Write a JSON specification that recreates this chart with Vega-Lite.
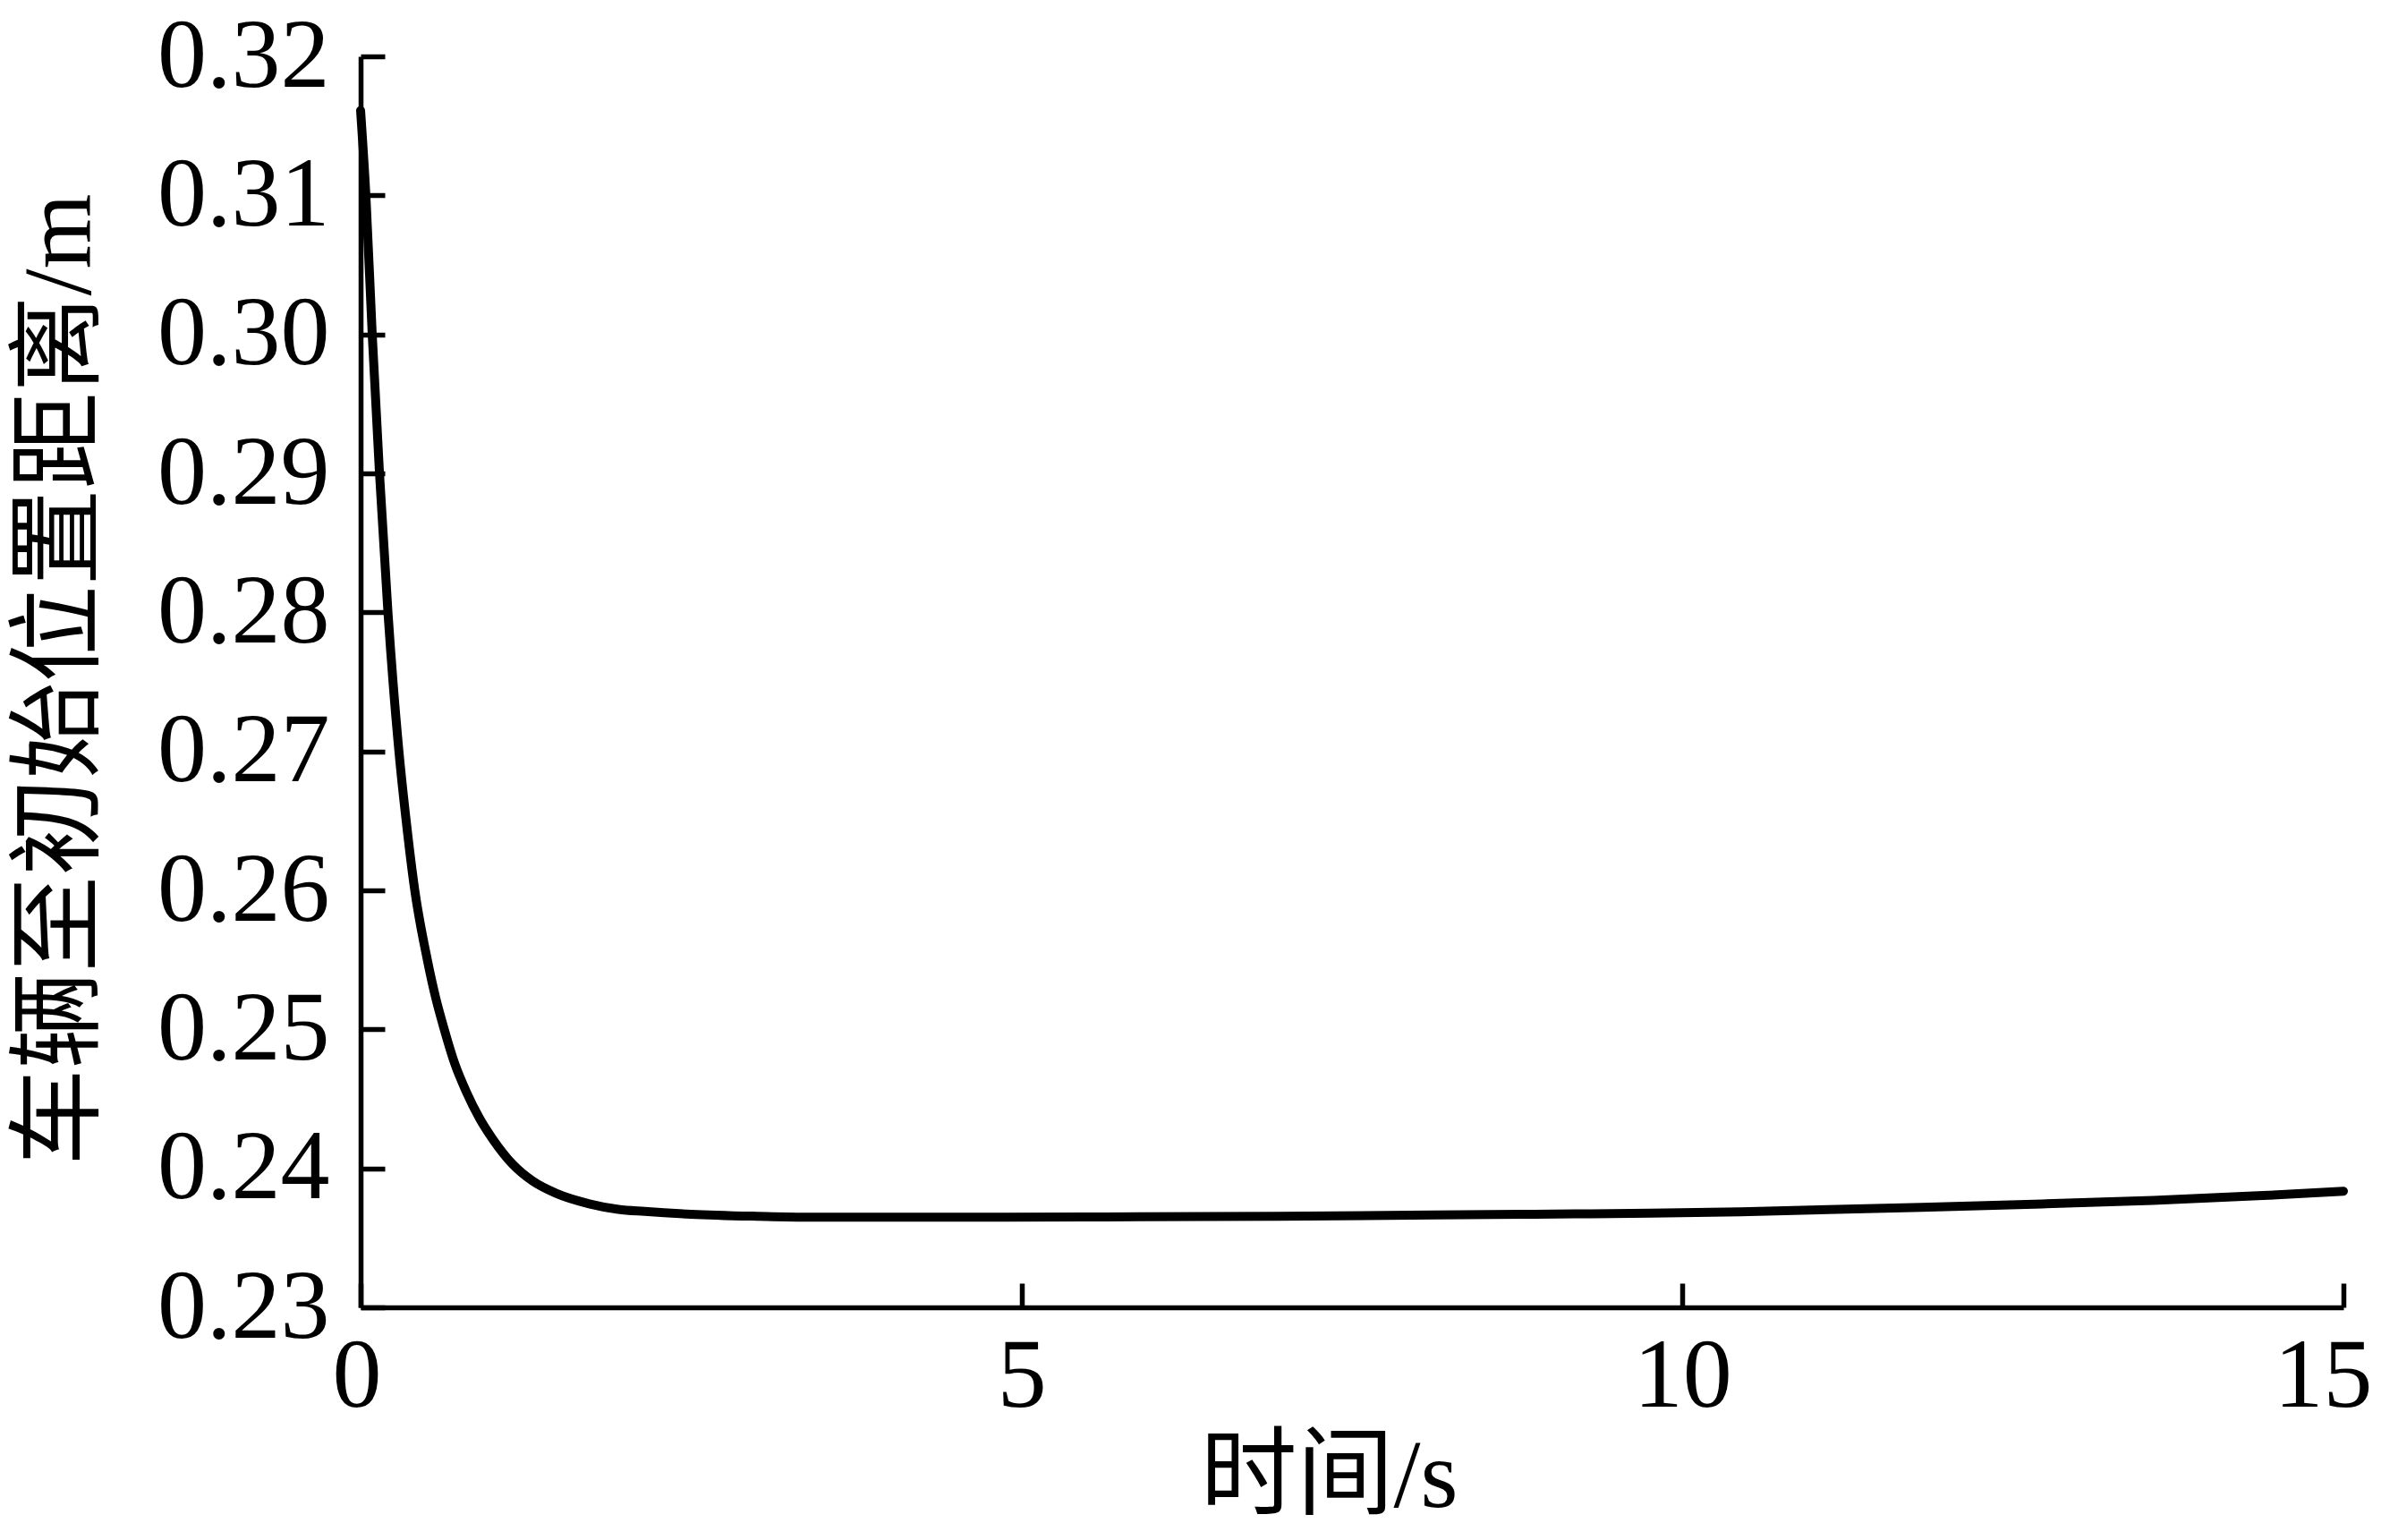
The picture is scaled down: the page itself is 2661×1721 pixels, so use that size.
{
  "$schema": "https://vega.github.io/schema/vega-lite/v6.json",
  "autosize": "none",
  "width": 2216,
  "height": 1398,
  "padding": {"left": 403, "top": 63, "right": 42, "bottom": 260},
  "background": "white",
  "config": {
    "view": {"stroke": null},
    "font": "Liberation Serif, Noto Sans CJK SC",
    "axis": {
      "grid": false,
      "domainColor": "black",
      "domainWidth": 5.5,
      "tickColor": "black",
      "tickWidth": 5.5,
      "tickSize": -27,
      "labelFont": "Liberation Serif",
      "labelFontSize": 110,
      "labelColor": "black",
      "labelLimit": 0,
      "titleFont": "Liberation Serif, Noto Sans CJK SC",
      "titleFontSize": 108,
      "titleFontWeight": "normal",
      "titleColor": "black"
    }
  },
  "data": {
    "values": [
      {"t": 0.0, "d": 0.3161},
      {"t": 0.04, "d": 0.3100},
      {"t": 0.088, "d": 0.3000},
      {"t": 0.143, "d": 0.2900},
      {"t": 0.207, "d": 0.2800},
      {"t": 0.29, "d": 0.2700},
      {"t": 0.345, "d": 0.2650},
      {"t": 0.41, "d": 0.2600},
      {"t": 0.505, "d": 0.2550},
      {"t": 0.57, "d": 0.2522},
      {"t": 0.63, "d": 0.2501},
      {"t": 0.71, "d": 0.2476},
      {"t": 0.8, "d": 0.2455},
      {"t": 0.9, "d": 0.2436},
      {"t": 1.0, "d": 0.2421},
      {"t": 1.15, "d": 0.2403},
      {"t": 1.3, "d": 0.2391},
      {"t": 1.48, "d": 0.2382},
      {"t": 1.73, "d": 0.23745},
      {"t": 1.95, "d": 0.23705},
      {"t": 2.15, "d": 0.2369},
      {"t": 2.5, "d": 0.2367},
      {"t": 3.0, "d": 0.23655},
      {"t": 3.4, "d": 0.23648},
      {"t": 4.4, "d": 0.23648},
      {"t": 5.5, "d": 0.2365},
      {"t": 6.94, "d": 0.23655},
      {"t": 8.12, "d": 0.23664},
      {"t": 8.88, "d": 0.2367},
      {"t": 9.76, "d": 0.23677},
      {"t": 10.44, "d": 0.23688},
      {"t": 10.97, "d": 0.237},
      {"t": 11.81, "d": 0.2372},
      {"t": 12.72, "d": 0.23744},
      {"t": 13.56, "d": 0.2377},
      {"t": 14.39, "d": 0.23804},
      {"t": 15.0, "d": 0.23836}
    ]
  },
  "mark": {"type": "line", "color": "black", "strokeWidth": 10, "interpolate": "monotone", "strokeCap": "round"},
  "encoding": {
    "x": {
      "field": "t",
      "type": "quantitative",
      "scale": {"domain": [0, 15], "nice": false, "zero": false},
      "axis": {
        "values": [0, 5, 10, 15],
        "format": "d",
        "title": "时间/s",
        "labelPadding": 50,
        "labelFlush": true,
        "labelFlushOffset": 32,
        "titleAnchor": "middle",
        "titleX": 1082,
        "titleY": 190,
        "titleBaseline": "middle"
      }
    },
    "y": {
      "field": "d",
      "type": "quantitative",
      "scale": {"domain": [0.23, 0.32], "nice": false, "zero": false},
      "axis": {
        "values": [0.23, 0.24, 0.25, 0.26, 0.27, 0.28, 0.29, 0.30, 0.31, 0.32],
        "format": ".2f",
        "title": "车辆至初始位置距离/m",
        "labelPadding": 62,
        "labelFlush": false,
        "titleX": -335,
        "titleY": 696,
        "titleAngle": -90,
        "titleAlign": "center",
        "titleBaseline": "middle"
      }
    }
  }
}
